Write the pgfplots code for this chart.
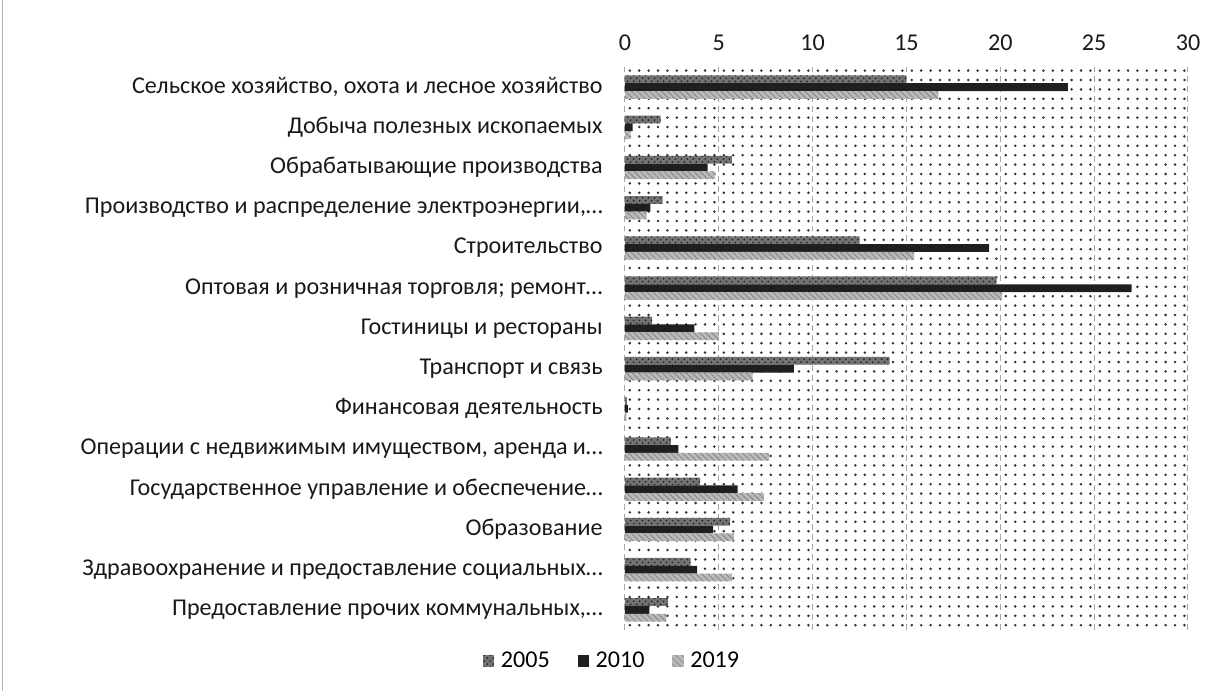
\documentclass[border=0pt]{standalone}
\usepackage{fontspec}
\setmainfont{Carlito}
\usepackage{pgfplots}
\usepackage{pgfplotstable}
\pgfplotsset{compat=1.18}
\usetikzlibrary{patterns,patterns.meta}

\pgfplotstableread{
y v2005 v2010 v2019
13 15.0 23.6 16.7
12 1.9 0.4 0.3
11 5.7 4.4 4.8
10 2.0 1.35 1.15
9 12.5 19.4 15.4
8 19.8 27.0 20.1
7 1.45 3.7 5.0
6 14.1 9.0 6.8
5 0.1 0.15 0.08
4 2.45 2.85 7.7
3 4.0 6.0 7.4
2 5.6 4.7 5.8
1 3.5 3.85 5.7
0 2.3 1.3 2.2
}\data

\begin{document}
\begin{tikzpicture}
\begin{axis}[
  at={(0,0)}, anchor=south west,
  width=281.5bp, height=281.5bp, scale only axis,
  xmin=0, xmax=30, ymin=-0.5, ymax=13.5,
  xbar, bar width=3.9bp,
  axis x line*=top, axis y line*=left,
  axis line style={draw=none},
  xtick={0,5,...,30},
  xticklabel pos=upper,
  ytick={0,...,13},
  yticklabels={
    {Предоставление прочих коммунальных,…},
    {Здравоохранение и предоставление социальных…},
    {Образование},
    {Государственное управление и обеспечение…},
    {Операции с недвижимым имуществом, аренда и…},
    {Финансовая деятельность},
    {Транспорт и связь},
    {Гостиницы и рестораны},
    {Оптовая и розничная торговля; ремонт…},
    {Строительство},
    {Производство и распределение электроэнергии,…},
    {Обрабатывающие производства},
    {Добыча полезных ископаемых},
    {Сельское хозяйство, охота и лесное хозяйство}},
  major tick length=0pt,
  xmajorgrids, grid style={densely dashed, gray!70, line width=0.5bp},
  axis background/.style={pattern={Dots[distance=4.7bp,radius=0.7bp]}, pattern color=black!80},
  /pgf/number format/assume math mode=true,
  tick label style={font=\fontsize{12.1}{14}\selectfont, inner sep=0pt, text=black!90},
  xticklabel shift=8bp,
  yticklabel shift=11bp,
  legend style={at={(-0.021,-0.055)}, anchor=center, draw=none, fill=none,
    legend columns=-1, font=\fontsize{12.1}{14}\selectfont, inner sep=0pt,
    /tikz/every odd column/.append style={column sep=1.3bp},
    /tikz/every even column/.append style={column sep=12bp}},
  legend image code/.code={\draw[#1, draw=none] (0bp,-2.8bp) rectangle (5.6bp,2.8bp);},
]
\addplot[fill=black!55, draw=none, bar shift=3.9bp,
  postaction={pattern=crosshatch dots, pattern color=black!85}]
  table[x=v2005, y=y] {\data};
\addplot[fill=black!88, draw=none, bar shift=0bp]
  table[x=v2010, y=y] {\data};
\addplot[fill=gray!55, draw=none, bar shift=-3.9bp,
  postaction={pattern=north west lines, pattern color=gray!95}]
  table[x=v2019, y=y] {\data};
\legend{2005, 2010, 2019}
\end{axis}
\pgfresetboundingbox
\path[use as bounding box] (-312.5bp,-30.5bp) rectangle (292.5bp,315bp);
\draw[gray!60, line width=0.5bp] (-311bp,-30.5bp) -- (-311bp,315bp);
\end{tikzpicture}
\end{document}
